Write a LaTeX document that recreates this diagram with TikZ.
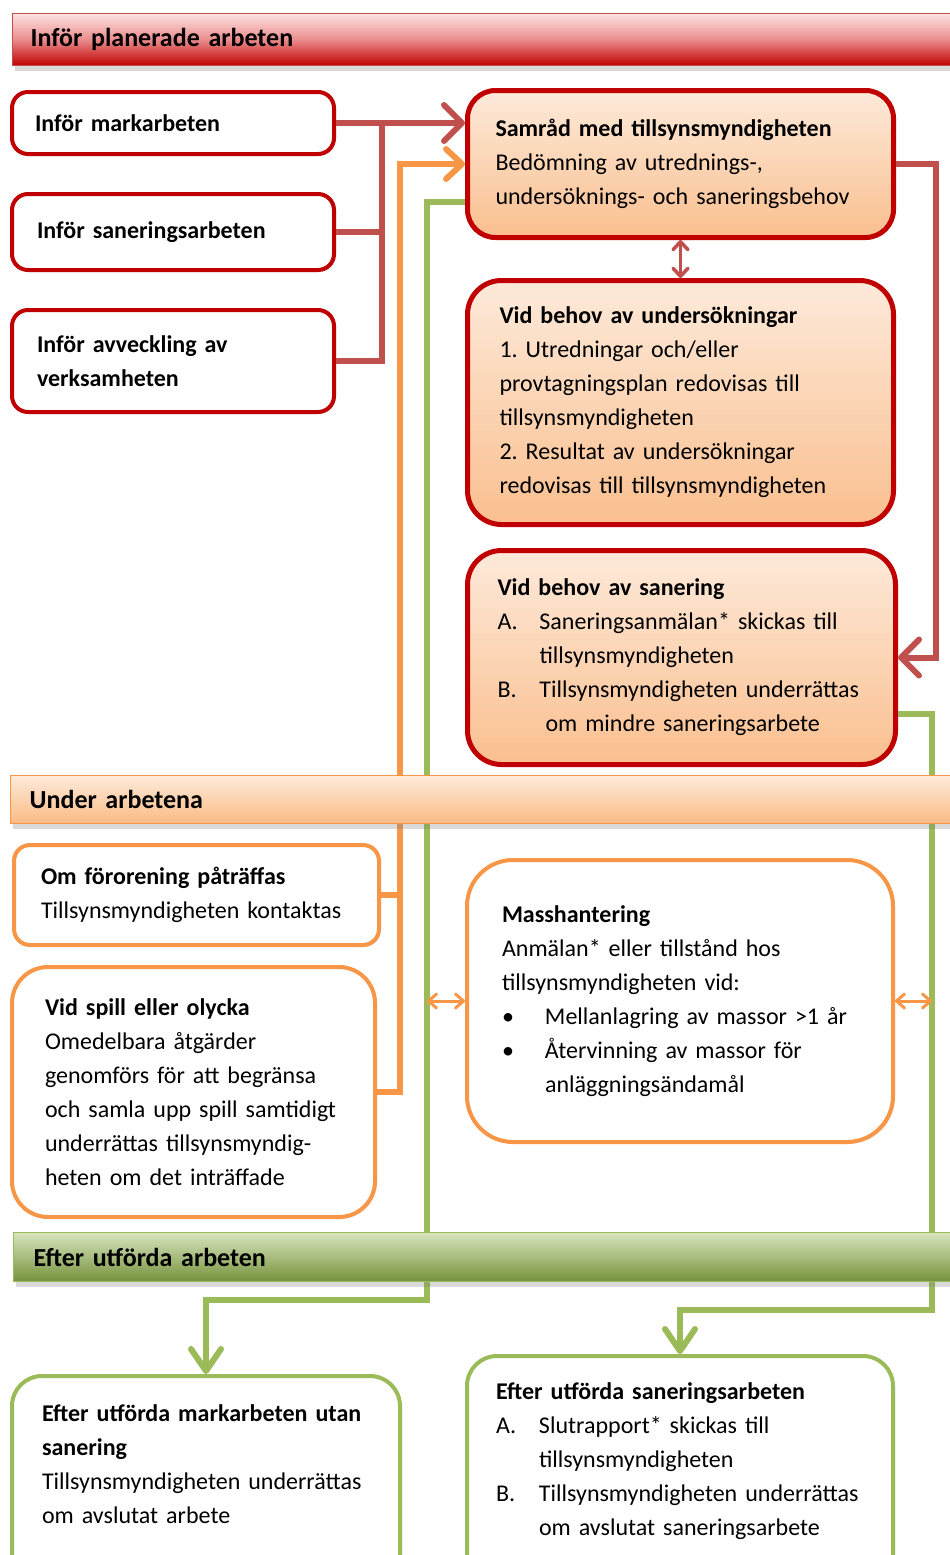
\documentclass[tikz,border=0pt]{standalone}
\usepackage{fontspec}
\setmainfont{Carlito}
\usetikzlibrary{arrows.meta,positioning,calc,shadows}
\definecolor{fsred}{RGB}{192,0,0}
\definecolor{fsredline}{RGB}{192,80,77}
\definecolor{fsorange}{RGB}{247,150,70}
\definecolor{fsgreen}{RGB}{155,187,89}
\definecolor{fspeachtop}{RGB}{253,234,218}
\definecolor{fspeachbot}{RGB}{250,191,143}
\definecolor{fsorangebot}{RGB}{250,186,132}
\definecolor{fsredtop}{RGB}{255,226,226}
\definecolor{fsredmid}{RGB}{234,140,140}
\definecolor{fsgreentop}{RGB}{216,229,190}
\definecolor{fsgreenbot}{RGB}{118,146,60}
\frenchspacing

\begin{document}
\begin{tikzpicture}[x=1pt,y=-1pt,
box/.style={draw,anchor=north west,align=left,inner ysep=0pt,line width=4pt,rounded corners=16pt,fill=white,font=\fontsize{24}{34}\selectfont,drop shadow={shadow xshift=2pt,shadow yshift=-2pt,opacity=0.15}},
rbox/.style={box,draw=fsred},
pbox/.style={box,draw=fsred,line width=5pt,rounded corners=28pt,top color=fspeachtop,bottom color=fspeachbot},
obox/.style={box,draw=fsorange},
gbox/.style={box,draw=fsgreen,rounded corners=30pt},
band/.style={anchor=north west,align=left,text width=960pt,inner xsep=19pt,line width=1.2pt,font=\fontsize{26}{34}\selectfont\bfseries,drop shadow={shadow xshift=2pt,shadow yshift=-5pt,opacity=0.3}},
redline/.style={draw=fsredline,line width=6pt},
redarr/.style={redline,-{Straight Barb[length=18pt,width=36pt,round]}},
reddbl/.style={draw=fsredline,line width=3.5pt,{Straight Barb[length=8pt,width=15pt,round]}-{Straight Barb[length=8pt,width=15pt,round]}},
orline/.style={draw=fsorange,line width=6pt},
orarr/.style={orline,-{Straight Barb[length=16pt,width=30pt,round]}},
ordbl/.style={draw=fsorange,line width=3pt,{Straight Barb[length=8pt,width=14pt,round]}-{Straight Barb[length=8pt,width=14pt,round]}},
grarr/.style={draw=fsgreen,line width=6pt,-{Straight Barb[length=22pt,width=30pt,round]}}
]
\useasboundingbox (0,0) rectangle (950,1555);
\node[rbox,inner xsep=23pt,text width=276pt,minimum height=62pt] (mark) at (10,90) {\textbf{Inför markarbeten}};
\node[rbox,inner xsep=25pt,text width=272pt,minimum height=76pt] (sanarb) at (10,192) {\textbf{Inför saneringsarbeten}};
\node[rbox,inner xsep=25pt,text width=272pt,minimum height=102pt] (avveck) at (10,308) {\textbf{Inför avveckling av}\\\textbf{verksamheten}};
\node[pbox,inner xsep=28pt,text width=370pt,minimum height=147pt] (samrad) at (465,88) {\textbf{Samråd med tillsynsmyndigheten}\\Bedömning av utrednings-,\\undersöknings- och saneringsbehov};
\node[pbox,inner xsep=32pt,text width=362pt,minimum height=244pt,rounded corners=34pt] (undersok) at (465,278) {\textbf{Vid behov av undersökningar}\\1. Utredningar och/eller\\provtagningsplan redovisas till\\tillsynsmyndigheten\\2. Resultat av undersökningar\\redovisas till tillsynsmyndigheten};
\node[pbox,inner xsep=30pt,text width=368pt,minimum height=214pt,rounded corners=34pt] (sanering) at (465,548) {\textbf{Vid behov av sanering}\\\makebox[42pt][l]{A.}Saneringsanmälan* skickas till\\\hspace*{42pt}tillsynsmyndigheten\\\makebox[42pt][l]{B.}Tillsynsmyndigheten underrättas\\\hspace*{48pt}om mindre saneringsarbete};
\node[obox,inner xsep=27pt,text width=311pt,minimum height=100pt] (forore) at (12,843) {\textbf{Om förorening påträffas}\\Tillsynsmyndigheten kontaktas};
\node[obox,inner xsep=33pt,text width=297pt,minimum height=250pt,rounded corners=36pt] (spill) at (10,965) {\textbf{Vid spill eller olycka}\\Omedelbara åtgärder\\genomförs för att begränsa\\och samla upp spill samtidigt\\underrättas tillsynsmyndig-\\heten om det inträffade};
\node[obox,inner xsep=35pt,text width=356pt,minimum height=282pt,rounded corners=46pt] (mass) at (465,858) {\textbf{Masshantering}\\Anmälan* eller tillstånd hos\\tillsynsmyndigheten vid:\\\makebox[43pt][l]{\textbullet}Mellanlagring av massor >1 år\\\makebox[43pt][l]{\textbullet}Återvinning av massor för\\\hspace*{43pt}anläggningsändamål};
\node[gbox,inner xsep=30pt,text width=328pt,minimum height=237pt] (utan) at (10,1374) {\textbf{Efter utförda markarbeten utan}\\\textbf{sanering}\\Tillsynsmyndigheten underrättas\\om avslutat arbete\\\rule{0pt}{60pt}};
\node[gbox,inner xsep=29pt,text width=368pt,minimum height=271pt] (efsan) at (465,1354) {\textbf{Efter utförda saneringsarbeten}\\\makebox[43pt][l]{A.}Slutrapport* skickas till\\\hspace*{43pt}tillsynsmyndigheten\\\makebox[43pt][l]{B.}Tillsynsmyndigheten underrättas\\\hspace*{43pt}om avslutat saneringsarbete\\\rule{0pt}{60pt}};
\coordinate (bus) at ($(mark.east)+(46,0)$);
\draw[redarr] (mark.east) -- (mark.east -| samrad.west);
\draw[redline] (sanarb.east) -| (bus);
\draw[redline] (avveck.east) -| (bus);
\draw[redarr] (samrad.east) -- ++(40,0) |- (sanering.east);
\draw[reddbl] (samrad.south) -- (undersok.north);
\coordinate (obus) at ($(samrad.west)+(-65,0)$);
\draw[orarr] (spill.east) -| (obus) -- (samrad.west);
\draw[orline] (forore.east) -- (forore.east -| obus);
\coordinate (gtop) at ($(samrad.south west)!0.25!(samrad.north west)$);
\coordinate (gleft) at (427,1300);
\coordinate (gsan) at ($(sanering.south east)!0.24!(sanering.north east)$);
\coordinate (gright) at (932,1310);
\draw[grarr] (gtop) -| (gleft) -| (utan.north);
\draw[grarr] (gsan) -| (gright) -| (efsan.north);
\draw[ordbl] (mass.west) -- (mass.west -| gleft);
\draw[ordbl] (mass.east) -- (mass.east -| gright);
\node[band,draw=fsredline,top color=fsredtop,bottom color=fsred,middle color=fsredmid,minimum height=52pt,inner xsep=18pt] (plan) at (12,13) {Inför planerade arbeten};
\node[band,draw=fsorange,top color=fspeachtop,bottom color=fsorangebot,minimum height=48pt] (under) at (10,775) {Under arbetena};
\node[band,draw=fsgreen,top color=fsgreentop,bottom color=fsgreenbot,minimum height=49pt,inner xsep=20pt] (efter) at (13,1232) {Efter utförda arbeten};
\end{tikzpicture}
\end{document}
